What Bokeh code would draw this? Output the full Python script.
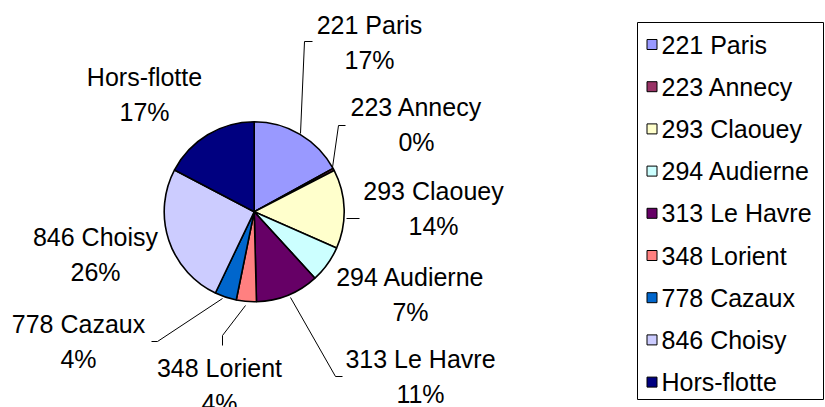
import math
from bokeh.plotting import figure
from bokeh.models import Range1d, ColumnDataSource
from bokeh.core.properties import value
from bokeh.embed import file_html
from bokeh.resources import INLINE

# ---- data ----
categories = ["221 Paris", "223 Annecy", "293 Claouey", "294 Audierne", "313 Le Havre",
              "348 Lorient", "778 Cazaux", "846 Choisy", "Hors-flotte"]
shares = [17.0, 0.4, 14.2, 6.6, 11.4, 3.6, 3.9, 25.6, 17.3]
colors = ["#9999FF", "#993366", "#FFFFCC", "#CCFFFF", "#660066",
          "#FF8080", "#0066CC", "#CCCCFF", "#000080"]

# ---- layout (pixel coordinates, top-left origin) ----
W, H = 825, 407
def X(x):
    return x
def Y(y):
    return H - y

CX, CY, R = 253.7, 211.3, 90
label_pos = [(369, 24), (416, 106), (433, 190), (410, 276), (420, 358),
             (219, 367), (78, 323), (95, 236), (144, 76)]
leaders = [
    [(312, 41), (304, 41), (300, 133)],
    [(345, 125), (338, 125), (332, 167)],
    [(346, 218), (359, 218)],
    None,
    [(290, 297), (335, 376), (342, 376)],
    [(245, 305), (222, 335), (222, 345)],
    [(222, 298), (157, 341), (151, 341)],
    None,
    None,
]
FONT = value("Liberation Sans")
FS = "25px"
LINE_GAP = 35

p = figure(width=W, height=H, output_backend="svg", toolbar_location=None,
           x_range=Range1d(0, W), y_range=Range1d(0, H),
           x_axis_type=None, y_axis_type=None,
           min_border=0, min_border_left=0, min_border_right=0,
           min_border_top=0, min_border_bottom=0)
p.outline_line_color = None
p.grid.visible = False
p.background_fill_color = "white"
p.border_fill_color = "white"

total = sum(shares)
starts, ends = [], []
cum = 0.0
for v in shares:
    starts.append(math.pi / 2 - 2 * math.pi * cum / total)
    cum += v
    ends.append(math.pi / 2 - 2 * math.pi * cum / total)

src = ColumnDataSource(dict(x=[X(CX)] * len(shares), y=[Y(CY)] * len(shares),
                            start=starts, end=ends, color=colors))
p.wedge(x="x", y="y", radius=R, start_angle="start", end_angle="end",
        direction="clock", fill_color="color", line_color="black", line_width=1.6,
        source=src)

# leader lines
xs, ys = [], []
for l in leaders:
    if l:
        xs.append([X(a) for a, b in l])
        ys.append([Y(b) for a, b in l])
p.multi_line(xs=xs, ys=ys, line_color="black", line_width=1)

# labels
pct = [f"{round(v / total * 100)}%" for v in shares]
lx = [X(a) for a, b in label_pos]
ly1 = [Y(b) for a, b in label_pos]
ly2 = [Y(b + LINE_GAP) for a, b in label_pos]
p.text(x=lx, y=ly1, text=categories, text_align="center", text_baseline="middle",
       text_font=FONT, text_font_size=FS, text_color="black")
p.text(x=lx, y=ly2, text=pct, text_align="center", text_baseline="middle",
       text_font=FONT, text_font_size=FS, text_color="black")

# legend
LX0, LX1, LY0, LY1 = 637, 823, 22, 399
p.quad(left=[LX0], right=[LX1], top=[Y(LY0)], bottom=[Y(LY1)],
       fill_color="white", line_color="black", line_width=1)
ey = [Y(44 + 42.2 * i) for i in range(len(categories))]
p.rect(x=[651.5] * len(categories), y=ey, width=10, height=10,
       fill_color=colors, line_color="black", line_width=1)
p.text(x=[661] * len(categories), y=ey, text=categories, text_align="left",
       text_baseline="middle", text_font=FONT, text_font_size=FS, text_color="black")

open("out.html", "w").write(file_html(p, INLINE))
